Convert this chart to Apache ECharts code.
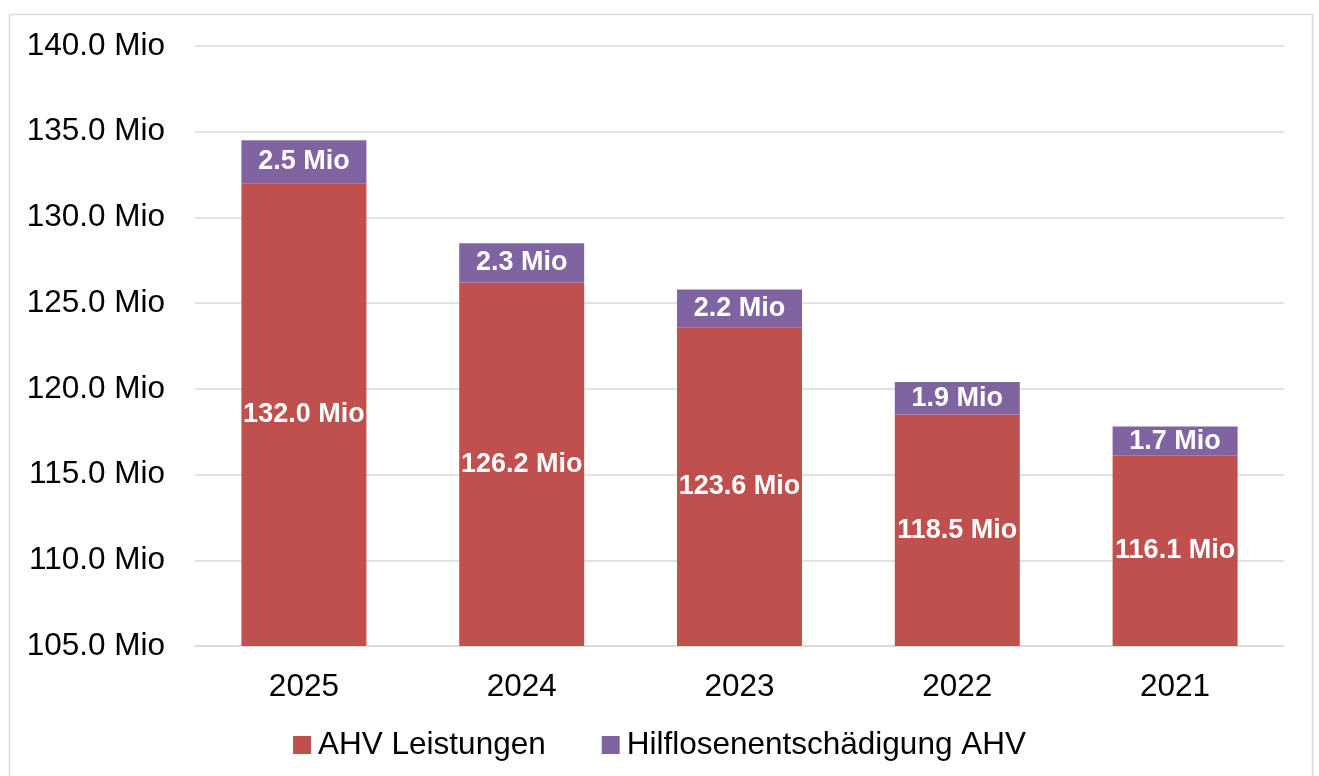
<!DOCTYPE html>
<html>
<head>
<meta charset="utf-8">
<script src="https://cdn.jsdelivr.net/npm/echarts@6/dist/echarts.min.js"></script>
<style>
  html, body { margin: 0; padding: 0; background: #fff; }
  #chart { width: 1319px; height: 776px; }
</style>
</head>
<body>
<div id="chart"></div>
<script>
const years = ['2025', '2024', '2023', '2022', '2021'];
const ahvLeistungen = [132.0, 126.2, 123.6, 118.5, 116.1];
const hilflosen = [2.5, 2.3, 2.2, 1.9, 1.7];

const font = '"Liberation Sans", Arial, sans-serif';
const mio = (v) => v.toFixed(1) + ' Mio';

const chart = echarts.init(document.getElementById('chart'));

const dataLabel = {
    show: true,
    position: 'inside',
    color: '#fff',
    fontWeight: 'bold',
    fontSize: 27,
    fontFamily: font,
    formatter: (p) => mio(p.value)
};

chart.setOption({
    animation: false,
    graphic: [{
        type: 'rect',
        shape: { x: 9.5, y: 14.5, width: 1303, height: 800 },
        style: { fill: 'none', stroke: '#d9d9d9', lineWidth: 1.5 }
    }],
    grid: { left: 195, right: 35, top: 46, bottom: 130 },
    legend: {
        bottom: 10,
        left: 'center',
        itemWidth: 18,
        itemHeight: 18,
        itemGap: 56,
        icon: 'rect',
        textStyle: { fontSize: 31.5, fontFamily: font, color: '#000', padding: [0, 0, 0, 2] },
        data: ['AHV Leistungen', 'Hilflosenentschädigung AHV']
    },
    xAxis: {
        type: 'category',
        data: years,
        axisTick: { show: false },
        axisLine: { lineStyle: { color: '#d9d9d9', width: 1.5 } },
        axisLabel: { fontSize: 31.5, fontFamily: font, color: '#000', margin: 25 }
    },
    yAxis: {
        type: 'value',
        min: 105,
        max: 140,
        interval: 5,
        axisLine: { show: false },
        axisTick: { show: false },
        splitLine: { lineStyle: { color: '#d9d9d9', width: 1.5 } },
        axisLabel: { fontSize: 31.5, fontFamily: font, color: '#000', margin: 30, formatter: mio }
    },
    series: [
        {
            name: 'AHV Leistungen',
            type: 'bar',
            stack: 'total',
            barWidth: 125,
            data: ahvLeistungen,
            itemStyle: { color: '#C0504D' },
            label: dataLabel
        },
        {
            name: 'Hilflosenentschädigung AHV',
            type: 'bar',
            stack: 'total',
            barWidth: 125,
            data: hilflosen,
            itemStyle: { color: '#8064A2' },
            label: dataLabel
        }
    ]
});
</script>
</body>
</html>
